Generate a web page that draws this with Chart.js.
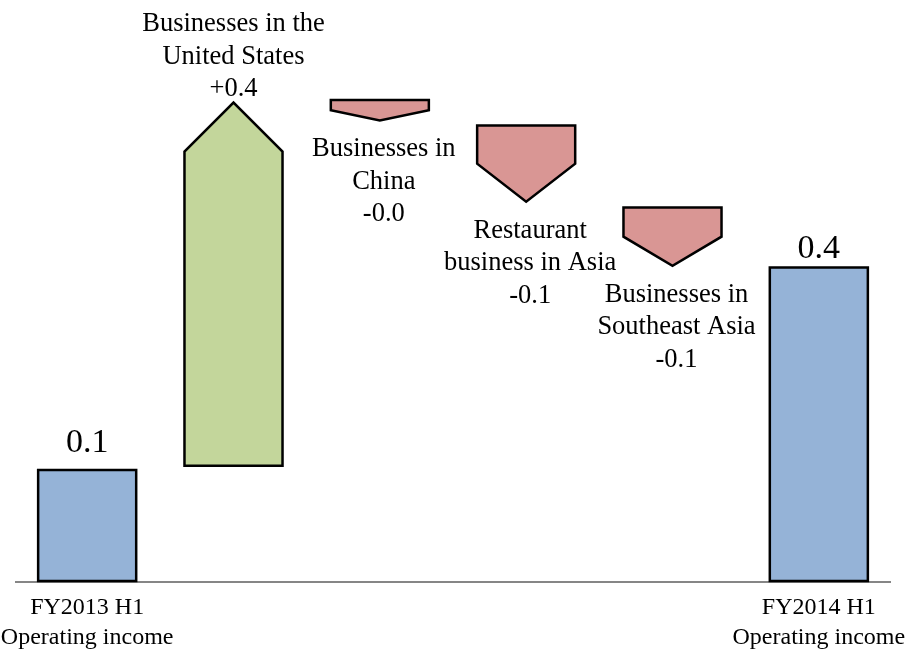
<!DOCTYPE html>
<html>
<head>
<meta charset="utf-8">
<script src="https://cdn.jsdelivr.net/npm/chart.js@4.4.1/dist/chart.umd.min.js"></script>
<style>
    html, body { margin: 0; padding: 0; background: #ffffff; }
    #wrap { width: 908px; height: 649px; }
</style>
</head>
<body>
<div id="wrap"><canvas id="bridgeChart" width="908" height="649"></canvas></div>
<script>
// Operating income bridge, FY2013 H1 -> FY2014 H1
const categories = [
    ['FY2013 H1', 'Operating income'],
    ['Businesses in the', 'United States'],
    ['Businesses in', 'China'],
    ['Restaurant', 'business in Asia'],
    ['Businesses in', 'Southeast Asia'],
    ['FY2014 H1', 'Operating income']
];
const barKind = ['total', 'change', 'change', 'change', 'change', 'total'];
// each bar runs from barFrom to barTo (floating bars for the changes)
const barFrom = [0, 0.135, 0.563, 0.533, 0.437, 0];
const barTo = [0.130, 0.560, 0.539, 0.444, 0.369, 0.367];

const FONT = '"Liberation Serif", "Times New Roman", serif';
const fillColors = {
    total: '#95b3d7',
    up: '#c3d69b',
    down: '#d99694'
};

function fmtChange(v) {
    const s = Math.abs(v).toFixed(1);
    return (v >= 0 ? '+' : '-') + s;
}

// draws the bars as plain boxes (totals) or arrow shapes (changes)
const arrowBars = {
    id: 'arrowBars',
    afterDatasetsDraw(chart) {
        const ctx = chart.ctx;
        const meta = chart.getDatasetMeta(0);
        const yScale = chart.scales.y;
        const zeroY = yScale.getPixelForValue(0);

        // base line
        ctx.save();
        ctx.strokeStyle = '#868686';
        ctx.lineWidth = 2;
        ctx.beginPath();
        ctx.moveTo(chart.chartArea.left + 1, zeroY + 1);
        ctx.lineTo(chart.chartArea.right - 1, zeroY + 1);
        ctx.stroke();
        ctx.restore();

        meta.data.forEach((bar, i) => {
            const props = bar.getProps(['x', 'width'], true);
            const left = props.x - props.width / 2;
            const right = props.x + props.width / 2;
            // the bar element keeps min/max only, so take the direction from the data
            const start = yScale.getPixelForValue(barFrom[i]);
            const end = yScale.getPixelForValue(barTo[i]);
            const kind = barKind[i];
            const delta = barTo[i] - barFrom[i];

            ctx.save();
            ctx.lineJoin = 'miter';
            ctx.lineWidth = 2.5;
            ctx.strokeStyle = '#000000';
            ctx.beginPath();
            if (kind === 'total') {
                ctx.fillStyle = fillColors.total;
                ctx.rect(left, end, right - left, start - end);
            } else {
                const len = Math.abs(start - end);
                const head = Math.min(len / 2, props.width / 2);
                const dir = end < start ? -1 : 1; // -1: pointing up
                ctx.fillStyle = dir < 0 ? fillColors.up : fillColors.down;
                const shoulder = end - dir * head;
                ctx.moveTo(left, start);
                ctx.lineTo(left, shoulder);
                ctx.lineTo(props.x, end);
                ctx.lineTo(right, shoulder);
                ctx.lineTo(right, start);
                ctx.closePath();
            }
            ctx.fill();
            ctx.stroke();
            ctx.restore();

            // text
            ctx.save();
            ctx.fillStyle = '#000000';
            ctx.textAlign = 'center';
            if (kind === 'total') {
                const gap = i === 0 ? 18 : 9;
                ctx.font = '34px ' + FONT;
                ctx.textBaseline = 'alphabetic';
                ctx.fillText(barTo[i].toFixed(1), props.x, end - gap);
                ctx.font = '24px ' + FONT;
                ctx.textBaseline = 'middle';
                categories[i].forEach((line, k) => {
                    ctx.fillText(line, props.x, zeroY + 27 + k * 30);
                });
            } else {
                const lines = categories[i].concat([fmtChange(delta)]);
                const lh = 32.5;
                ctx.font = '26.5px ' + FONT;
                ctx.textBaseline = 'middle';
                if (delta >= 0) {
                    lines.forEach((line, k) => {
                        ctx.fillText(line, props.x, end - 13 - (lines.length - 1 - k) * lh);
                    });
                } else {
                    lines.forEach((line, k) => {
                        ctx.fillText(line, props.x + 4, end + 29 + k * lh);
                    });
                }
            }
            ctx.restore();
        });
    }
};

new Chart(document.getElementById('bridgeChart'), {
    type: 'bar',
    data: {
        labels: categories,
        datasets: [{
            data: barFrom.map((v, i) => [v, barTo[i]]),
            backgroundColor: 'rgba(0,0,0,0)',
            borderWidth: 0,
            categoryPercentage: 1,
            barPercentage: 0.67
        }]
    },
    options: {
        responsive: false,
        animation: false,
        layout: {
            padding: { left: 14, right: 16, top: 0, bottom: 68 }
        },
        plugins: {
            legend: { display: false },
            tooltip: { enabled: false }
        },
        scales: {
            x: { display: false },
            y: { display: false, min: 0, max: 0.68 }
        }
    },
    plugins: [arrowBars]
});
</script>
</body>
</html>
